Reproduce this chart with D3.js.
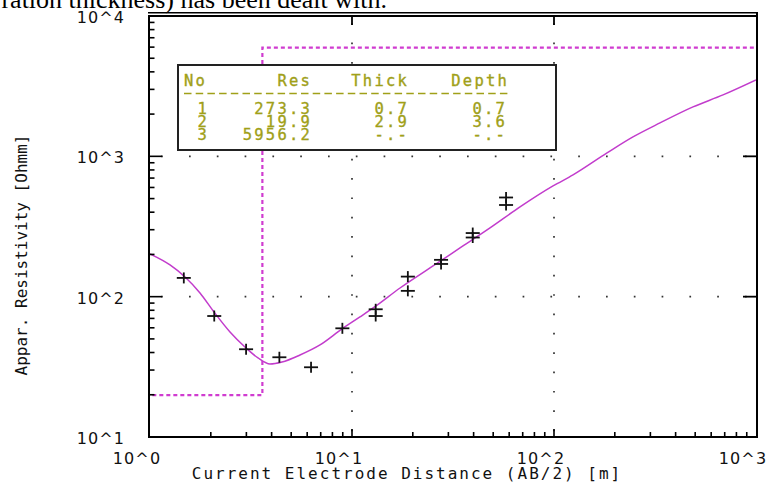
<!DOCTYPE html>
<html><head><meta charset="utf-8">
<script src="https://cdn.jsdelivr.net/npm/d3@7"></script>
<style>
html,body{margin:0;padding:0;background:#fff;overflow:hidden;}
svg{display:block;}
</style></head>
<body>
<svg id="chart" width="768" height="485"></svg>
<script>
// ---- data ----
const xMajor = [1, 10, 100, 1000];
const xMajorLabels = ["10^0", "10^1", "10^2", "10^3"];
const yMajor = [10, 100, 1000, 10000];
const yMajorLabels = ["10^1", "10^2", "10^3", "10^4"];

// observed apparent resistivity (AB/2 [m], rho [Ohmm])
const obsAB  = [1.47, 2.08, 2.99, 4.37, 6.27, 8.96, 13.1, 13.1, 18.9, 18.9, 27.6, 27.6, 39.6, 39.6, 57.9, 57.9];
const obsRho = [136, 72.8, 42.2, 37.0, 31.4, 59.5, 81.3, 72.8, 139, 110, 183, 171, 284, 264, 509, 450];

// calculated model curve
const curveAB  = [1.0, 1.256, 1.491, 1.768, 2.074, 2.489, 2.987, 3.425, 3.927, 4.503, 5.528, 6.943, 8.923, 10.95, 13.15, 17.29, 24.33, 34.25, 48.22, 67.88, 98.9, 124.2, 183.0, 246.0, 334.8, 487.6, 686.6, 1000];
const curveRho = [201.5, 168.2, 138.1, 106.3, 77.8, 56.0, 43.1, 36.6, 33.1, 34.2, 38.4, 45.3, 58.9, 71.7, 85.9, 115.3, 160.2, 222.4, 308.8, 435.9, 615.2, 736.9, 1057, 1375, 1730, 2249, 2739, 3503];

// layered model
const layerNo    = ["1", "2", "3"];
const layerRes   = [273.3, 19.9, 5956.2];
const layerThick = [0.7, 2.9, null];
const layerDepth = [0.7, 3.6, null];
const tableHeaders = ["No", "Res", "Thick", "Depth"];

const xTitle = "Current Electrode Distance (AB/2) [m]";
const yTitle = "Appar. Resistivity [Ohmm]";
const topText = "ration thickness) has been dealt with.";

// ---- layout ----
const L = 150, R = 756, T = 16, B = 437;
const svg = d3.select("#chart");
const x = d3.scaleLog().domain([1, 1000]).range([L, R]);
const y = d3.scaleLog().domain([10, 10000]).range([B, T]);

const magenta = "#c23ccc";
const dashMag = "#d03cd0";
const olive = "#a0a018";

// cut-off caption text at very top
svg.append("text").attr("x", 387).attr("y", 8).attr("text-anchor", "end")
  .attr("font-family", "Liberation Serif, serif").attr("font-size", 26)
  .attr("fill", "#000").text(topText);

svg.append("defs").append("clipPath").attr("id", "clip")
  .append("rect").attr("x", L).attr("y", T).attr("width", R - L).attr("height", B - T);

// dotted grid at inner decades
const g = svg.append("g");
xMajor.filter(d => d > 1 && d < 1000).forEach(d => {
  g.append("line").attr("x1", x(d)).attr("x2", x(d)).attr("y1", T).attr("y2", B)
    .attr("stroke", "#333").attr("stroke-width", 1.7)
    .attr("stroke-dasharray", "1.7 17.65").attr("stroke-dashoffset", 12.1);
});
yMajor.filter(d => d > 10 && d < 10000).forEach(d => {
  g.append("line").attr("x1", L).attr("x2", R).attr("y1", y(d)).attr("y2", y(d))
    .attr("stroke", "#333").attr("stroke-width", 1.7)
    .attr("stroke-dasharray", "1.7 26.1").attr("stroke-dashoffset", 16.6);
});

// layered model step line (dashed)
const stepPts = [];
let prevDepth = 0.1;
layerRes.forEach((r, i) => {
  const end = layerDepth[i] == null ? 1000 : layerDepth[i];
  stepPts.push([prevDepth, r]);
  stepPts.push([end, r]);
  prevDepth = end;
});
svg.append("path").attr("clip-path", "url(#clip)")
  .attr("d", d3.line().x(d => x(d[0])).y(d => y(d[1]))(stepPts))
  .attr("fill", "none").attr("stroke", dashMag).attr("stroke-width", 2.2)
  .attr("stroke-dasharray", "4 3");

// calculated curve
svg.append("path").attr("clip-path", "url(#clip)")
  .attr("d", d3.line().curve(d3.curveMonotoneX).x((d, i) => x(curveAB[i])).y((d, i) => y(curveRho[i]))(curveAB))
  .attr("fill", "none").attr("stroke", magenta).attr("stroke-width", 1.5);

// observed crosses
const cross = svg.append("g").attr("stroke", "#111").attr("stroke-width", 1.8);
obsAB.forEach((a, i) => {
  const cx = x(a), cy = y(obsRho[i]);
  cross.append("line").attr("x1", cx - 7).attr("x2", cx + 7).attr("y1", cy).attr("y2", cy);
  cross.append("line").attr("x1", cx).attr("x2", cx).attr("y1", cy - 5.5).attr("y2", cy + 5.5);
});

// frame
const fr = svg.append("g").attr("stroke", "#000").attr("fill", "none");
fr.append("line").attr("x1", 148).attr("x2", 758).attr("y1", 12.8).attr("y2", 12.8).attr("stroke-width", 1.5);
fr.append("line").attr("x1", 148).attr("x2", 758).attr("y1", 16).attr("y2", 16).attr("stroke-width", 1.8);
fr.append("line").attr("x1", 149).attr("x2", 149).attr("y1", 16).attr("y2", B + 1).attr("stroke-width", 2);
fr.append("line").attr("x1", 148).attr("x2", 758).attr("y1", B).attr("y2", B).attr("stroke-width", 2);
fr.append("line").attr("x1", 757).attr("x2", 757).attr("y1", 12).attr("y2", B + 1).attr("stroke-width", 2);

// ticks left (inward), bottom (inward)
y.ticks().forEach(d => {
  const major = yMajor.includes(d);
  if (d === 10 || d === 10000) return;
  fr.append("line").attr("x1", 149).attr("x2", 149 + (major ? 13 : 5.5)).attr("y1", y(d)).attr("y2", y(d)).attr("stroke-width", 1.6);
  if (major) fr.append("line").attr("x1", 757 - 14).attr("x2", 757).attr("y1", y(d)).attr("y2", y(d)).attr("stroke-width", 1.8);
});
x.ticks().forEach(d => {
  const major = xMajor.includes(d);
  if (d === 1 || d === 1000) return;
  fr.append("line").attr("y1", B).attr("y2", B - (major ? 8 : 5)).attr("x1", x(d)).attr("x2", x(d)).attr("stroke-width", 1.6);
  if (major) fr.append("line").attr("y1", 16).attr("y2", 25).attr("x1", x(d)).attr("x2", x(d)).attr("stroke-width", 1.8);
});

// tick labels
const tl = svg.append("g").attr("font-family", "DejaVu Sans, sans-serif").attr("font-size", 16)
  .attr("letter-spacing", 1.1).attr("fill", "#111");
yMajor.forEach((d, i) => {
  tl.append("text").attr("x", 125).attr("y", y(d) + 7).attr("text-anchor", "end").text(yMajorLabels[i]);
});
xMajor.forEach((d, i) => {
  tl.append("text").attr("x", x(d) - 13).attr("y", 464).attr("text-anchor", "middle").text(xMajorLabels[i]);
});

// axis titles
svg.append("text").attr("x", 407).attr("y", 479).attr("text-anchor", "middle")
  .attr("font-family", "DejaVu Sans Mono, monospace").attr("font-size", 16).attr("letter-spacing", 2)
  .attr("fill", "#111").text(xTitle);
svg.append("text").attr("transform", "translate(27,255) rotate(-90)").attr("text-anchor", "middle")
  .attr("font-family", "DejaVu Sans Mono, monospace").attr("font-size", 16)
  .attr("fill", "#111").text(yTitle);

// legend table
const lg = svg.append("g");
lg.append("rect").attr("x", 178).attr("y", 65).attr("width", 378).attr("height", 85)
  .attr("fill", "#fff").attr("stroke", "#222").attr("stroke-width", 2);
const tf = lg.append("g").attr("font-family", "DejaVu Sans Mono, monospace").attr("font-size", 15.5)
  .attr("letter-spacing", 2.2).attr("fill", olive).attr("stroke", olive).attr("stroke-width", 0.35);
const colEnd = [210, 312, 409, 509];
tableHeaders.forEach((h, i) => {
  if (i === 0) tf.append("text").attr("x", 184).attr("y", 86).text(h);
  else tf.append("text").attr("x", colEnd[i]).attr("y", 86).attr("text-anchor", "end").text(h);
});
lg.append("line").attr("x1", 184).attr("x2", 511).attr("y1", 93.5).attr("y2", 93.5)
  .attr("stroke", olive).attr("stroke-width", 1.6).attr("stroke-dasharray", "7.5 4.2");
const fmt = v => v == null ? "-.-" : v.toFixed(1);
layerNo.forEach((n, i) => {
  const yy = 114 + i * 13;
  tf.append("text").attr("x", 209).attr("y", yy).attr("text-anchor", "end").text(n);
  tf.append("text").attr("x", 312).attr("y", yy).attr("text-anchor", "end").text(fmt(layerRes[i]));
  tf.append("text").attr("x", 409).attr("y", yy).attr("text-anchor", "end").text(fmt(layerThick[i]));
  tf.append("text").attr("x", 507).attr("y", yy).attr("text-anchor", "end").text(fmt(layerDepth[i]));
});
</script>
</body></html>
